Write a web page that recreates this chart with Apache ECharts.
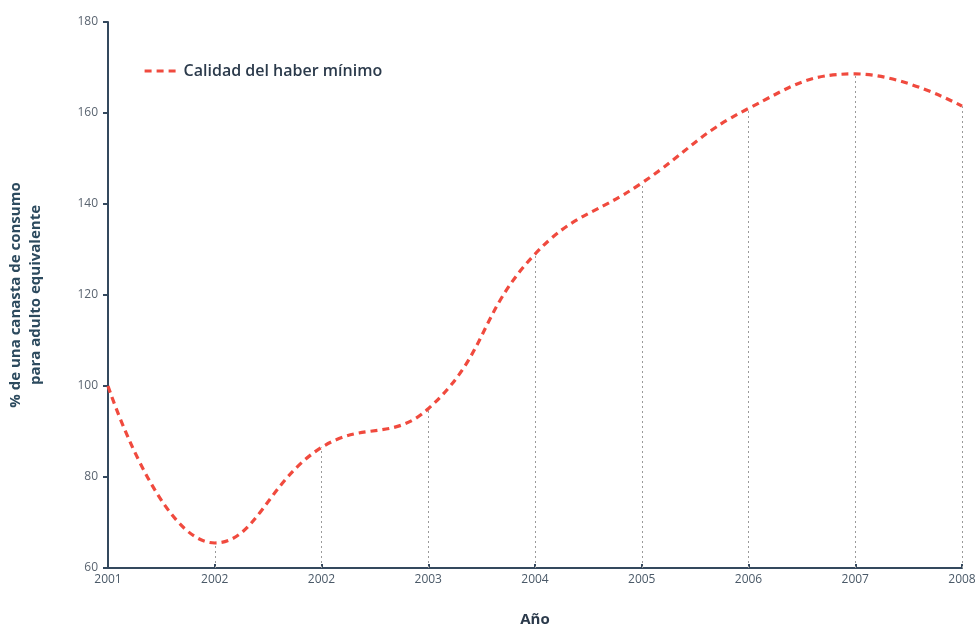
<!DOCTYPE html>
<html>
<head>
<meta charset="utf-8">
<script src="https://cdn.jsdelivr.net/npm/echarts@6/dist/echarts.min.js"></script>
<style>
html,body{margin:0;padding:0;background:#fff;}
#chart{width:979px;height:627px;}
</style>
</head>
<body>
<div id="chart"></div>
<script>
var categories = ['2001', '2002', '2002', '2003', '2004', '2005', '2006', '2007', '2008'];
var calidad = [100, 65.5, 86.5, 95, 129, 144.6, 161, 168.6, 161.5];
var seriesName = 'Calidad del haber mínimo';
var yMin = 60, yMax = 180, yStep = 20;

var chart = echarts.init(document.getElementById('chart'));
var guideLines = calidad.map(function (v, i) {
  return [{ coord: [i, yMin] }, { coord: [i, v] }];
}).slice(1);

chart.setOption({
  animation: false,
  textStyle: { fontFamily: '"Open Sans", "Noto Sans", sans-serif' },
  grid: { left: 108, right: 17, top: 22, bottom: 59, outerBoundsMode: 'none', containLabel: false },
  legend: {
    left: 138, top: 58,
    itemWidth: 34, itemHeight: 12, itemGap: 10,
    itemStyle: { opacity: 0 },
    lineStyle: { width: 3.2, type: [7, 5], color: '#f04a3e' },
    textStyle: { fontSize: 16, color: '#2b3a4b', fontWeight: 600 },
    data: [seriesName]
  },
  xAxis: {
    type: 'category',
    data: categories,
    boundaryGap: false,
    name: 'Año',
    nameLocation: 'middle',
    nameGap: 44,
    nameTextStyle: { fontSize: 15, fontWeight: 'bold', color: '#2b3a4b' },
    axisLine: { lineStyle: { color: '#34495e', width: 2 } },
    axisTick: { show: true, inside: true, length: 4, lineStyle: { color: '#34495e', width: 2 } },
    axisLabel: { color: '#4a5968', fontSize: 12, margin: 6 },
    splitLine: { show: false }
  },
  yAxis: {
    type: 'value',
    min: yMin, max: yMax, interval: yStep,
    name: '% de una canasta de consumo\npara adulto equivalente',
    nameLocation: 'middle',
    nameGap: 62,
    nameRotate: 90,
    nameTextStyle: { fontSize: 15, fontWeight: 'bold', color: '#2c4a5e', lineHeight: 20 },
    axisLine: { show: true, lineStyle: { color: '#34495e', width: 2 } },
    axisTick: { show: true, length: 5, lineStyle: { color: '#34495e', width: 2 } },
    axisLabel: { color: '#5a6470', fontSize: 12, margin: 10 },
    splitLine: { show: false }
  },
  series: [{
    name: seriesName,
    type: 'line',
    data: calidad,
    smooth: 0.45,
    showSymbol: false,
    symbol: 'none',
    lineStyle: { color: '#f04a3e', width: 3.2, type: [7, 5] },
    itemStyle: { color: '#f04a3e' },
    markLine: {
      silent: true,
      symbol: ['none', 'none'],
      label: { show: false },
      lineStyle: { color: '#9a9a9a', width: 1, type: [2, 3] },
      data: guideLines,
      z: 1
    },
    z: 3
  }]
});
</script>
</body>
</html>
